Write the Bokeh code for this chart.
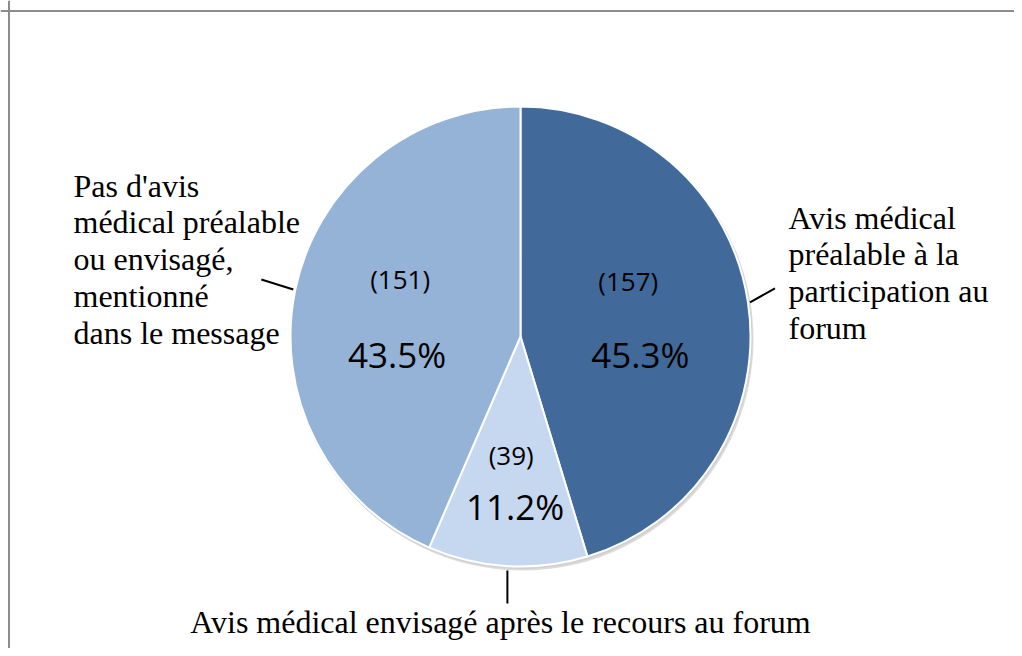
import math
from bokeh.plotting import figure
from bokeh.models import Range1d, Span, ColumnDataSource
from bokeh.core.properties import value
from bokeh.embed import file_html
from bokeh.resources import INLINE

# ---------------- data ----------------
categories = [
    "Avis médical préalable à la participation au forum",
    "Avis médical envisagé après le recours au forum",
    "Pas d'avis médical préalable ou envisagé, mentionné dans le message",
]
outer_labels = [
    "Avis médical\npréalable à la\nparticipation au\nforum",
    "Avis médical envisagé après le recours au forum",
    "Pas d'avis\nmédical préalable\nou envisagé,\nmentionné\ndans le message",
]
counts = [157, 39, 151]
percents = [45.3, 11.2, 43.5]
colors = ["#416A9B", "#C6D8EF", "#95B3D7"]

# ---------------- layout ----------------
W, H = 1014, 648
CX, CY, R = 520, H - 336, 230      # pie centre / radius (pixel-like data units)
label_frac = [0.50, 0.64, 0.53]    # where in-slice labels sit along mid-angle
count_dy = [39, 28, 33]            # count text above label centre
pct_dy = [-35, -23, -43]           # percent text below label centre
count_dx = [-6, -1, -1]
pct_dx = [6, 3, -4]

p = figure(width=W, height=H, output_backend="svg", toolbar_location=None,
           x_range=Range1d(0, W), y_range=Range1d(0, H), min_border=0)
p.axis.visible = False
p.grid.visible = False
p.outline_line_color = None
p.background_fill_color = "white"
p.border_fill_color = "white"

# frame (top + left edges visible, rest is outside the picture)
p.add_layout(Span(location=8.5, dimension="height", line_color="#8C8C8C", line_width=2))
p.add_layout(Span(location=H - 10.5, dimension="width", line_color="#8C8C8C", line_width=2))

total = sum(percents)
starts, ends, mids = [], [], []
cum = 0.0
for v in percents:
    a0 = math.pi / 2 - 2 * math.pi * cum / total
    cum += v
    a1 = math.pi / 2 - 2 * math.pi * cum / total
    starts.append(a0)
    ends.append(a1)
    mids.append((a0 + a1) / 2)

# soft shadow
p.circle(x=[CX + 2], y=[CY - 3], radius=R + 1, fill_color="#9A9A9A",
         fill_alpha=0.35, line_color=None)
p.circle(x=[CX + 1], y=[CY - 1.5], radius=R + 1, fill_color="#BBBBBB",
         fill_alpha=0.35, line_color=None)

src = ColumnDataSource(dict(start=starts, end=ends, color=colors, cat=categories))
p.wedge(x=CX, y=CY, radius=R, start_angle="start", end_angle="end",
        direction="clock", fill_color="color", line_color="white",
        line_width=2, source=src)

# in-slice labels
cx_l, cy_l, px_l, py_l = [], [], [], []
for i, m in enumerate(mids):
    lx = CX + label_frac[i] * R * math.cos(m)
    ly = CY + label_frac[i] * R * math.sin(m)
    cx_l.append(lx + count_dx[i]); cy_l.append(ly + count_dy[i])
    px_l.append(lx + pct_dx[i]); py_l.append(ly + pct_dy[i])

p.text(x=cx_l, y=cy_l, text=[f"({c})" for c in counts],
       text_font=value("Open Sans"), text_font_size="26px",
       text_align="center", text_baseline="middle", text_color="black")
p.text(x=px_l, y=py_l, text=[f"{v:.1f}%" for v in percents],
       text_font=value("Open Sans"), text_font_size="35px",
       text_align="center", text_baseline="middle", text_color="black")

# leader lines (from pie edge at mid-angle)
leader_off = [(25, 14), (0, -33), (-32, 10)]
for i, m in enumerate(mids):
    sx = CX + (R + 2) * math.cos(m)
    sy = CY + (R + 2) * math.sin(m)
    if i == 1:
        sy = CY - R - 4
    ex, ey = sx + leader_off[i][0], sy + leader_off[i][1]
    p.line(x=[sx, ex], y=[sy, ey], line_color="black", line_width=2)

# outer labels
serif = value("Liberation Serif")
p.text(x=[788], y=[H - 199], text=[outer_labels[0]], text_font=serif,
       text_font_size="32px", text_align="left", text_baseline="top",
       text_line_height=1.025, text_color="black")
p.text(x=[500], y=[H - 621], text=[outer_labels[1]], text_font=serif,
       text_font_size="32px", text_align="center", text_baseline="middle",
       text_color="black")
p.text(x=[73], y=[H - 167], text=[outer_labels[2]], text_font=serif,
       text_font_size="32px", text_align="left", text_baseline="top",
       text_line_height=1.025, text_color="black")

open("out.html", "w").write(file_html(p, INLINE))
